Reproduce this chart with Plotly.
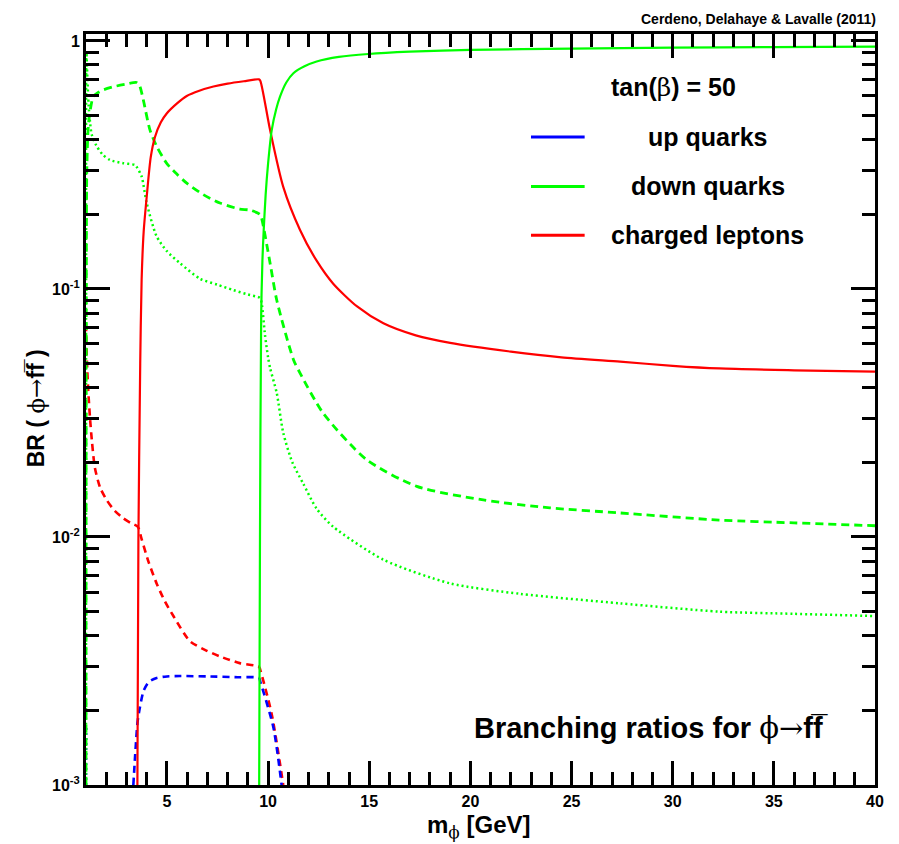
import plotly.graph_objects as go

# ---- data: branching ratios of a light scalar phi -> f fbar, tan(beta) = 50 ----
# down-type quarks
b_mass = [9.56, 9.6, 9.66, 9.72, 9.78, 9.88, 10.0, 10.18, 10.4, 10.59, 10.9, 11.25,
          11.8, 12.4, 13.5, 14.95, 17.0, 20.0, 25.0, 30.0, 35.0, 40.0]
b_br = [0.001, 0.01, 0.08, 0.13, 0.17, 0.24, 0.32, 0.437, 0.53, 0.596, 0.68, 0.741,
        0.79, 0.826, 0.862, 0.886, 0.905, 0.92, 0.932, 0.94, 0.945, 0.948]

s_mass = [1.0, 1.01, 1.04, 1.11, 1.2, 1.36, 1.6, 1.86, 2.4, 3.0, 3.5, 3.65, 3.83,
          4.16, 4.5, 4.99, 5.5, 5.98, 6.8, 7.62, 8.6, 9.1, 9.6, 9.68, 10.1, 10.43,
          11.25, 11.58, 12.73, 14.87, 17.35, 20.64, 23.94, 27.4, 32.3, 36.0, 40.0]
s_br = [0.001, 0.05, 0.3, 0.45, 0.52, 0.596, 0.62, 0.635, 0.655, 0.67, 0.68, 0.66, 0.58,
        0.438, 0.375, 0.321, 0.29, 0.267, 0.24, 0.222, 0.21, 0.208, 0.2, 0.193, 0.127, 0.09,
        0.052, 0.0458, 0.0315, 0.0205, 0.016, 0.0141, 0.0131, 0.0125, 0.0117, 0.0114, 0.0111]

d_mass = [1.0, 1.005, 1.02, 1.07, 1.13, 1.2, 1.28, 1.5, 1.8, 2.19, 2.8, 3.42, 3.5,
          3.75, 4.0, 4.49, 5.0, 5.65, 6.63, 7.5, 8.28, 9.0, 9.6, 9.68, 9.85, 10.0,
          10.1, 10.43, 10.75, 11.2, 11.74, 12.4, 13.22, 15.7, 19.0, 22.45, 27.4,
          32.3, 36.0, 40.0]
d_br = [0.001, 0.1, 0.9, 0.7, 0.55, 0.47, 0.42, 0.38, 0.35, 0.331, 0.322, 0.316, 0.311,
        0.284, 0.222, 0.163, 0.142, 0.127, 0.110, 0.104, 0.099, 0.095, 0.092, 0.088, 0.065, 0.053,
        0.048, 0.038, 0.0263, 0.02, 0.0164, 0.013, 0.011, 0.0081, 0.0065, 0.0059, 0.0054,
        0.005, 0.0049, 0.0048]

# charged leptons
tau_mass = [3.54, 3.59, 3.68, 3.75, 3.85, 4.0, 4.2, 4.41, 4.7, 4.99, 5.5, 5.98, 6.6,
            7.3, 8.0, 8.8, 9.55, 9.62, 10.1, 10.75, 11.58, 12.4, 13.22, 14.4, 15.7,
            17.3, 19.0, 22.0, 24.5, 27.4, 30.0, 32.3, 36.0, 40.0]
tau_br = [0.001, 0.0097, 0.05, 0.109, 0.17, 0.235, 0.34, 0.41, 0.47, 0.51, 0.56, 0.60, 0.63,
          0.655, 0.673, 0.688, 0.70, 0.69, 0.437, 0.258, 0.173, 0.13, 0.105, 0.085, 0.0727,
          0.065, 0.0606, 0.0559, 0.053, 0.0509, 0.049, 0.0478, 0.047, 0.0464]

mu_mass = [1.0, 1.02, 1.06, 1.11, 1.2, 1.3, 1.44, 1.7, 2.02, 2.4, 2.84, 3.2, 3.56,
           3.75, 4.1, 4.49, 4.9, 5.32, 6.14, 6.9, 7.62, 8.6, 9.55, 9.62, 10.18, 10.75]
mu_br = [0.072, 0.06, 0.048, 0.039, 0.03, 0.024, 0.019, 0.0158, 0.0141, 0.0128, 0.0119,
         0.0114, 0.011, 0.0098, 0.0079, 0.0065, 0.0055, 0.0048, 0.0038, 0.0035, 0.0033,
         0.0031, 0.0030, 0.0029, 0.00193, 0.001]

# up-type quarks
c_mass = [3.34, 3.45, 3.55, 3.67, 3.85, 4.1, 4.49, 5.0, 5.65, 7.0, 8.5, 9.55, 9.62,
          10.26, 10.67]
c_br = [0.001, 0.0014, 0.0018, 0.00207, 0.0024, 0.0026, 0.0027, 0.00274, 0.00275,
        0.00274, 0.00272, 0.0027, 0.0026, 0.00171, 0.001]

u_mass = [1.0, 1.01]
u_br = [0.001, 0.0017]

# axis ticks
x_ticks = [5, 10, 15, 20, 25, 30, 35, 40]
y_ticks = [0.001, 0.01, 0.1, 1]
y_ticktext = ["10<sup>-3</sup>", "10<sup>-2</sup>", "10<sup>-1</sup>", "1"]

RED, GREEN, BLUE = "#ff0000", "#00ff00", "#0000ff"
FONT = "Liberation Sans, Arial, Helvetica, sans-serif"
SYM = "font-family:DejaVu Serif;font-weight:normal"
PHI = "\u03d5"

fig = go.Figure()

def curve(x, y, color, dash, width):
    fig.add_trace(go.Scatter(x=x, y=y, mode="lines", showlegend=False,
                             line=dict(color=color, dash=dash, width=width,
                                       shape="spline", smoothing=0.7)))

curve(u_mass, u_br, BLUE, "2px,3px", 2.5)
curve(mu_mass, mu_br, RED, "7px,5px", 2.6)
curve(c_mass, c_br, BLUE, "7px,5px", 2.6)
curve(d_mass, d_br, GREEN, "2px,3px", 2.5)
curve(s_mass, s_br, GREEN, "8px,5px", 2.8)
curve(tau_mass, tau_br, RED, "solid", 2.2)
curve(b_mass, b_br, GREEN, "solid", 2.2)

# y minor ticks at 2..9 of each decade
y_minor = [m * 10.0 ** e for e in (-3, -2, -1) for m in range(2, 10)]

axis_common = dict(showline=True, linecolor="black", linewidth=3, mirror="allticks",
                   ticks="inside", ticklen=24, tickwidth=2.5, tickcolor="black",
                   showgrid=False, zeroline=False,
                   tickfont=dict(family=FONT, size=16, color="black", weight="bold"))

fig.update_xaxes(range=[1, 40], tickmode="array", tickvals=x_ticks,
                 minor=dict(ticks="inside", ticklen=13, tickwidth=2.5, dtick=1,
                            tick0=0, tickcolor="black", showgrid=False),
                 **axis_common)
fig.update_yaxes(type="log", range=[-3, 0.028], tickmode="array", tickvals=y_ticks,
                 ticktext=y_ticktext,
                 minor=dict(ticks="inside", ticklen=13, tickwidth=2.5,
                            tickvals=y_minor, tickcolor="black", showgrid=False),
                 **axis_common)

# legend drawn as a text block with sample lines
legend_rows = [("up quarks", BLUE, 0.863), ("down quarks", GREEN, 0.797),
               ("charged leptons", RED, 0.732)]
for label, color, yy in legend_rows:
    fig.add_shape(type="line", xref="paper", yref="paper", x0=0.564, x1=0.632,
                  y0=yy, y1=yy, line=dict(color=color, width=3))
    fig.add_annotation(text=label, xref="paper", yref="paper", x=0.788, y=yy,
                       showarrow=False, xanchor="center", yanchor="middle",
                       font=dict(family=FONT, size=25, color="black", weight="bold"))

fig.add_annotation(text=f"tan(<span style='{SYM}'>β</span>) = 50", xref="paper",
                   yref="paper", x=0.744, y=0.929, showarrow=False,
                   xanchor="center", yanchor="middle",
                   font=dict(family=FONT, size=25, color="black", weight="bold"))

fig.add_annotation(text=f"Branching ratios for <span style='{SYM}'>{PHI}→</span>ff\u0305",
                   xref="paper", yref="paper", x=0.716, y=0.076, showarrow=False,
                   xanchor="center", yanchor="middle",
                   font=dict(family=FONT, size=29, color="black", weight="bold"))

fig.add_annotation(text="Cerdeno, Delahaye & Lavalle (2011)", xref="paper",
                   yref="paper", x=1.004, y=1.02, showarrow=False,
                   xanchor="right", yanchor="middle",
                   font=dict(family=FONT, size=14, color="black", weight="bold"))

# axis titles
fig.add_annotation(text=f"m<sub><span style='{SYM}'>{PHI}</span></sub> [GeV]",
                   xref="paper", yref="paper", x=0.497, y=-0.0546, showarrow=False,
                   xanchor="center", yanchor="middle",
                   font=dict(family=FONT, size=24, color="black", weight="bold"))
fig.add_annotation(text=f"BR ( <span style='{SYM}'>{PHI}→</span>ff\u0305 )",
                   xref="paper", yref="paper", x=-0.063, y=0.502, showarrow=False,
                   textangle=-90, xanchor="center", yanchor="middle",
                   font=dict(family=FONT, size=23, color="black", weight="bold"))

fig.update_layout(width=899, height=844,
                  margin=dict(l=86, r=24, t=34, b=59, pad=0),
                  paper_bgcolor="white", plot_bgcolor="white",
                  font=dict(family=FONT, color="black"))

fig.write_html("out.html")
